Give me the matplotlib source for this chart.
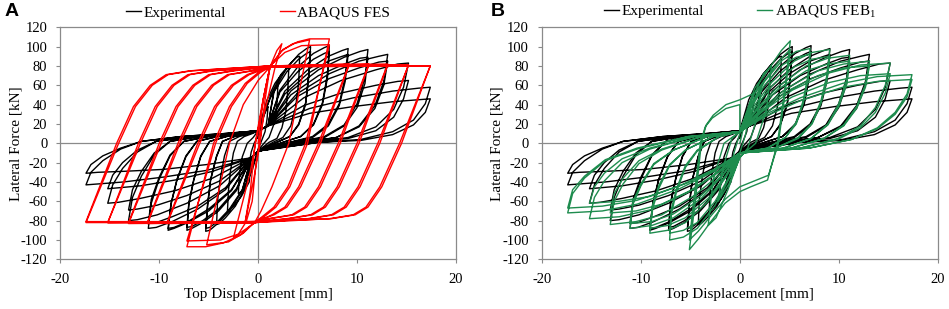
import matplotlib.pyplot as plt
from matplotlib.lines import Line2D

# ---- experimental hysteresis (top displacement [mm], lateral force [kN]), one cycle per row ----
exp_disp = [
    0, 0.3, 0.6, 0.85, 1.0, 0.9, 0.7, 0.4, 0, -0.3, -0.6, -0.85, -1.0, -0.9, -0.7, -0.4,
    0, 0.6, 1.2, 1.7, 2.0, 1.9, 1.6, 1.1, 0, -0.6, -1.2, -1.7, -2.0, -1.9, -1.6, -1.1, -0.5,
    0, 0.9, 1.7, 2.4, 2.9, 3.1, 3.0, 2.8, 2.4, 1.9, 1.1, 0, -0.7, -0.9, -1.7, -2.4, -2.9, -3.1, -3.0, -2.8, -2.5, -2.1, -1.4, -0.6,
    0, 1.3, 2.3, 3.3, 3.9, 4.2, 4.1, 3.8, 3.3, 2.5, 1.5, 0, -0.7, -1.3, -2.3, -3.3, -3.9, -4.2, -4.1, -3.8, -3.4, -2.9, -1.9, -0.8,
    0, 1.0, 1.6, 2.9, 4.1, 4.9, 5.3, 5.1, 4.8, 4.1, 3.2, 1.9, 0, -0.7, -1.6, -2.9, -4.1, -4.9, -5.3, -5.1, -4.8, -4.2, -3.6, -2.4, -1.1,
    0, 1.0, 1.6, 2.9, 4.1, 4.9, 5.3, 5.1, 4.8, 4.1, 3.2, 1.9, 0, -0.7, -1.6, -2.9, -4.1, -4.9, -5.3, -5.1, -4.8, -4.2, -3.6, -2.4, -1.1,
    0, 1.0, 2.2, 4.0, 5.6, 6.7, 7.2, 7.0, 6.5, 5.6, 4.3, 2.5, 0, -0.7, -2.2, -4.0, -5.6, -6.7, -7.2, -7.0, -6.5, -5.8, -4.9, -3.2, -1.4,
    0, 1.0, 2.2, 4.0, 5.6, 6.7, 7.2, 7.0, 6.5, 5.6, 4.3, 2.5, 0, -0.7, -2.2, -4.0, -5.6, -6.7, -7.2, -7.0, -6.5, -5.8, -4.9, -3.2, -1.4,
    0, 1.0, 2.7, 5.0, 7.1, 8.5, 9.1, 8.8, 8.2, 7.1, 5.5, 3.2, 0, -0.7, -2.7, -5.0, -7.1, -8.5, -9.1, -8.8, -8.2, -7.3, -6.2, -4.1, -1.8,
    0, 1.0, 2.7, 5.0, 7.1, 8.5, 9.1, 8.8, 8.2, 7.1, 5.5, 3.2, 0, -0.7, -2.7, -5.0, -7.1, -8.5, -9.1, -8.8, -8.2, -7.3, -6.2, -4.1, -1.8,
    0, 1.0, 3.3, 6.1, 8.7, 10.3, 11.1, 10.8, 10.0, 8.7, 6.7, 3.9, 0, -0.7, -3.3, -6.1, -8.7, -10.3, -11.1, -10.8, -10.0, -8.9, -7.5, -5.0, -2.2,
    0, 1.0, 3.3, 6.1, 8.7, 10.3, 11.1, 10.8, 10.0, 8.7, 6.7, 3.9, 0, -0.7, -3.3, -6.1, -8.7, -10.3, -11.1, -10.8, -10.0, -8.9, -7.5, -5.0, -2.2,
    0, 1.0, 3.9, 7.2, 10.2, 12.2, 13.1, 12.7, 11.8, 10.2, 7.9, 4.6, 0, -0.7, -3.9, -7.2, -10.2, -12.2, -13.1, -12.7, -11.8, -10.5, -8.9, -5.9, -2.6,
    0, 1.0, 3.9, 7.2, 10.2, 12.2, 13.1, 12.7, 11.8, 10.2, 7.9, 4.6, 0, -0.7, -3.9, -7.2, -10.2, -12.2, -13.1, -12.7, -11.8, -10.5, -8.9, -5.9, -2.6,
    0, 1.0, 4.6, 8.4, 11.9, 14.1, 15.2, 14.7, 13.7, 11.9, 9.1, 5.3, 0, -0.7, -4.6, -8.4, -11.9, -14.1, -15.2, -14.7, -13.7, -12.2, -10.3, -6.8, -3.0,
    0, 1.0, 4.6, 8.4, 11.9, 14.1, 15.2, 14.7, 13.7, 11.9, 9.1, 5.3, 0, -0.7, -4.6, -8.4, -11.9, -14.1, -15.2, -14.7, -13.7, -12.2, -10.3, -6.8, -3.0,
    0, 1.0, 5.2, 9.6, 13.6, 16.2, 17.4, 16.9, 15.7, 13.6, 10.4, 6.1, 0, -0.7, -5.2, -9.6, -13.6, -16.2, -17.4, -16.9, -15.7, -13.9, -11.8, -7.8, -3.5,
    0, 1.0, 5.2, 9.6, 13.6, 16.2, 17.4, 16.9, 15.7, 13.6, 10.4, 6.1, 0, -0.7, -5.2, -9.6, -13.6, -16.2, -17.4, -16.9, -15.7, -13.9, -11.8, -7.8, -3.5, 0,
]
exp_force = [
    5, 18, 29, 35, 38, 25, 12, 4, -6, -16, -25, -31, -33, -21, -9, 0,
    8, 30, 46, 56, 60, 40, 20, 6, -7, -28, -42, -50, -52, -33, -14, 0, 6,
    13, 45, 62, 72, 77, 78, 55, 33, 16, 5, 1, -8, -15, -40, -55, -64, -69, -70, -49, -29, -10, 2, 7, 10,
    13, 50, 71, 83, 89, 90, 63, 38, 18, 6, 1, -8, -15, -46, -65, -77, -83, -84, -59, -35, -13, 2, 7, 10,
    13, 18, 55, 78, 92, 98, 100, 70, 42, 20, 7, 1, -8, -15, -49, -70, -83, -90, -91, -64, -38, -14, 2, 7, 10,
    13, 18, 53, 74, 87, 93, 95, 67, 40, 19, 7, 1, -8, -15, -48, -68, -81, -87, -88, -62, -37, -13, 2, 7, 10,
    13, 18, 55, 79, 93, 99, 101, 71, 42, 20, 7, 1, -8, -15, -49, -70, -82, -88, -90, -63, -38, -14, 2, 7, 10,
    13, 18, 53, 74, 87, 93, 95, 67, 40, 19, 7, 1, -8, -15, -47, -68, -80, -86, -87, -61, -37, -13, 2, 7, 10,
    13, 18, 54, 76, 90, 96, 98, 69, 41, 20, 7, 1, -8, -15, -49, -70, -82, -88, -90, -63, -38, -14, 2, 7, 10,
    13, 18, 51, 72, 85, 90, 92, 64, 39, 18, 6, 1, -8, -15, -48, -68, -81, -87, -88, -62, -37, -13, 2, 7, 10,
    13, 18, 54, 76, 89, 95, 97, 68, 41, 19, 7, 1, -8, -15, -48, -68, -81, -87, -88, -62, -37, -13, 2, 7, 10,
    13, 18, 50, 70, 82, 88, 89, 62, 37, 18, 6, 1, -8, -15, -46, -65, -76, -82, -83, -58, -35, -12, 2, 7, 10,
    13, 18, 51, 72, 85, 90, 92, 64, 39, 18, 6, 1, -8, -15, -44, -62, -74, -79, -80, -56, -34, -12, 2, 7, 10,
    13, 18, 48, 67, 78, 84, 85, 60, 36, 17, 6, 1, -8, -15, -39, -54, -64, -68, -69, -48, -29, -10, 2, 7, 10,
    13, 18, 47, 65, 76, 82, 83, 58, 35, 17, 6, 1, -8, -15, -36, -49, -57, -61, -62, -43, -26, -9, 2, 7, 10,
    13, 18, 39, 52, 60, 64, 65, 46, 27, 13, 5, 1, -8, -15, -29, -38, -44, -46, -47, -33, -20, -7, 2, 7, 10,
    13, 18, 36, 47, 54, 57, 58, 41, 24, 12, 4, 1, -8, -15, -28, -35, -40, -42, -43, -30, -18, -6, 2, 7, 10,
    13, 18, 31, 38, 43, 45, 46, 32, 19, 9, 3, 1, -8, -15, -22, -27, -29, -30, -31, -22, -13, -5, 2, 7, 10, 13,
]

# ---- ABAQUS FES (panel A) ----
fes_disp = [
    0, 0.5, 1.2, 0.4, -0.3, -0.8, -1.3, -0.5, 0.2, 0.7,
    1.2, 1.9, 2.4, 1.7, 0.6, -0.2, -0.6, -1.2, -2.0, -2.5, -1.8, -0.8, 0.1, 0.7,
    1.2, 2.3, 3.5, 5.2, 3.1, 1.4, 0.3, -0.3, -1.5, -3.0, -5.2, -2.9, -1.5, 0,
    1.2, 2.5, 4.0, 5.2, 7.2, 5.0, 3.2, 1.8, 0.6, -0.3, -1.8, -3.5, -5.3, -7.2, -4.5, -2.9, -1.3, 0,
    1.2, 2.7, 4.4, 7.2, 4.8, 3.0, 1.6, 0.4, -0.3, -2.0, -3.8, -7.2, -4.3, -2.7, -1.1, 0.2,
    1.2, 9.2, 6.3, 4.3, 2.9, 1.6, -0.3, -9.2, -6.1, -4.4, -2.7, -1.1,
    1.2, 9.2, 6.1, 4.1, 2.7, 1.4, -0.3, -9.2, -5.9, -4.2, -2.5, -0.9,
    1.2, 11.2, 8.3, 6.3, 4.9, 3.6, 1.2, -0.3, -11.2, -8.1, -6.4, -4.7, -3.1, -0.7,
    1.2, 11.2, 8.1, 6.1, 4.7, 3.4, 1.0, -0.3, -11.2, -7.9, -6.2, -4.5, -2.9, -0.5,
    1.2, 13.1, 10.2, 8.2, 6.8, 5.5, 3.1, -0.3, -13.1, -10.0, -8.3, -6.6, -5.0, -2.6,
    1.2, 13.1, 10.0, 8.0, 6.6, 5.3, 2.9, -0.3, -13.1, -9.8, -8.1, -6.4, -4.8, -2.4,
    1.2, 15.2, 12.3, 10.3, 8.9, 7.6, 5.2, -0.3, -15.2, -12.1, -10.4, -8.7, -7.1, -4.7,
    1.2, 15.2, 12.1, 10.1, 8.7, 7.4, 5.0, -0.3, -15.2, -11.9, -10.2, -8.5, -6.9, -4.5,
    1.2, 17.4, 14.5, 12.5, 11.1, 9.8, 7.4, -0.3, -17.4, -14.3, -12.6, -10.9, -9.3, -6.9,
    1.2, 17.4, 14.3, 12.3, 10.9, 9.6, 7.2, -0.3, -17.4, -14.1, -12.4, -10.7, -9.1, -6.7, 1.2, 17.4,
]
fes_force = [
    0, 45, 79, 40, 0, -50, -81, -40, 0, 45,
    79, 96, 103, 78, 30, -20, -60, -81, -94, -98, -70, -30, 20, 55,
    79, 95, 103, 107, 0, -45, -70, -81, -93, -102, -105, 0, 40, 65,
    79, 97, 105, 108, 108, 0, -45, -66, -76, -81, -95, -103, -107, -107, 0, 38, 62, 73,
    80, 94, 101, 102, 0, -45, -66, -76, -82, -94, -100, -101, 0, 38, 62, 73,
    79, 81, 0, -45, -66, -74, -81, -82, 0, 38, 60, 71,
    80, 82, 0, -45, -66, -74, -82, -83, 0, 38, 60, 71,
    79, 81, 0, -45, -66, -74, -78, -81, -82, 0, 38, 60, 71, 75,
    80, 82, 0, -45, -66, -74, -78, -82, -83, 0, 38, 60, 71, 75,
    79, 81, 0, -45, -66, -74, -78, -81, -82, 0, 38, 60, 71, 75,
    80, 82, 0, -45, -66, -74, -78, -82, -83, 0, 38, 60, 71, 75,
    79, 81, 0, -45, -66, -74, -78, -81, -82, 0, 38, 60, 71, 75,
    80, 81, 0, -45, -66, -74, -78, -82, -82, 0, 38, 60, 71, 75,
    79, 80, 0, -45, -66, -74, -78, -81, -81, 0, 38, 60, 71, 75,
    80, 80, 0, -45, -66, -74, -78, -82, -82, 0, 38, 60, 71, 75, 80, 80,
]

# ---- ABAQUS FEB1 (panel B) ----
feb_disp = [
    0, 0.5, 1.0, 0.6, 0, -0.5, -1.0, -0.6, 0,
    1.1, 2.2, 1.7, 0.8, 0, -1.1, -2.2, -1.7, -0.8, 0,
    1.2, 2.4, 3.2, 2.7, 1.6, 0, -1.2, -2.4, -3.2, -2.7, -1.6, 0,
    1.5, 3.0, 4.2, 5.1, 4.6, 3.8, 2.8, 1.1, 0, -1.5, -3.0, -4.2, -5.1, -4.5, -3.9, -3.4, -2.7, -1.4, 0,
    1.5, 3.0, 4.2, 5.1, 4.6, 3.9, 2.9, 1.2, 0, -1.5, -3.0, -4.2, -5.1, -4.6, -4.0, -3.5, -2.8, -1.4, 0,
    0, 1.1, 2.5, 4.3, 5.7, 7.1, 6.9, 6.4, 5.7, 4.6, 2.8, 0, -1.1, -2.5, -4.3, -5.7, -7.1, -6.9, -6.4, -5.5, -4.3, -2.1,
    0, 1.1, 2.5, 4.3, 5.7, 7.1, 6.9, 6.4, 5.7, 4.6, 2.8, 0, -1.1, -2.5, -4.3, -5.7, -7.1, -6.9, -6.4, -5.5, -4.3, -2.1,
    0, 1.4, 3.2, 5.5, 7.3, 9.1, 8.8, 8.2, 7.3, 5.9, 3.6, 0, -1.4, -3.2, -5.5, -7.3, -9.1, -8.8, -8.2, -7.1, -5.5, -2.7,
    0, 1.4, 3.2, 5.5, 7.3, 9.1, 8.8, 8.2, 7.3, 5.9, 3.6, 0, -1.4, -3.2, -5.5, -7.3, -9.1, -8.8, -8.2, -7.1, -5.5, -2.7,
    0, 1.7, 3.9, 6.7, 8.9, 11.1, 10.8, 10.0, 8.9, 7.2, 4.4, 0, -1.7, -3.9, -6.7, -8.9, -11.1, -10.8, -10.0, -8.7, -6.7, -3.3,
    0, 1.7, 3.9, 6.7, 8.9, 11.1, 10.8, 10.0, 8.9, 7.2, 4.4, 0, -1.7, -3.9, -6.7, -8.9, -11.1, -10.8, -10.0, -8.7, -6.7, -3.3,
    0, 2.0, 4.6, 7.9, 10.5, 13.1, 12.7, 11.8, 10.5, 8.5, 5.2, 0, -2.0, -4.6, -7.9, -10.5, -13.1, -12.7, -11.8, -10.2, -7.9, -3.9,
    0, 2.0, 4.6, 7.9, 10.5, 13.1, 12.7, 11.8, 10.5, 8.5, 5.2, 0, -2.0, -4.6, -7.9, -10.5, -13.1, -12.7, -11.8, -10.2, -7.9, -3.9,
    0, 2.3, 5.3, 9.1, 12.2, 15.2, 14.7, 13.7, 12.2, 9.9, 6.1, 0, -2.3, -5.3, -9.1, -12.2, -15.2, -14.7, -13.7, -11.9, -9.1, -4.6,
    0, 2.3, 5.3, 9.1, 12.2, 15.2, 14.7, 13.7, 12.2, 9.9, 6.1, 0, -2.3, -5.3, -9.1, -12.2, -15.2, -14.7, -13.7, -11.9, -9.1, -4.6,
    0, 2.6, 6.1, 10.4, 13.9, 17.4, 16.9, 15.7, 13.9, 11.3, 7.0, 0, -2.6, -6.1, -10.4, -13.9, -17.4, -16.9, -15.7, -13.6, -10.4, -5.2,
    0, 2.6, 6.1, 10.4, 13.9, 17.4, 16.9, 15.7, 13.9, 11.3, 7.0, 0, -2.6, -6.1, -10.4, -13.9, -17.4, -16.9, -15.7, -13.6, -10.4, -5.2, 0,
]
feb_force = [
    0, 22, 35, 10, -10, -24, -35, -10, 10,
    40, 60, 25, -5, -15, -42, -60, -25, 5, 12,
    45, 72, 80, 35, 0, -14, -48, -77, -85, -38, 0, 12,
    57, 78, 96, 106, 60, 0, -38, -45, -50, -62, -82, -99, -110, -60, 0, 19, 29, 40, 45,
    52, 72, 88, 97, 55, 0, -33, -40, -45, -58, -76, -91, -100, -55, 0, 17, 26, 36, 40,
    12, 38, 64, 86, 95, 98, 71, 44, 22, 6, -5, -10, -37, -64, -88, -97, -100, -72, -50, -25, -8, 7,
    12, 36, 60, 81, 89, 92, 66, 41, 20, 6, -5, -10, -35, -60, -82, -90, -93, -67, -47, -23, -7, 7,
    12, 38, 63, 85, 94, 97, 70, 44, 21, 6, -5, -10, -35, -60, -82, -90, -93, -67, -47, -23, -7, 7,
    12, 35, 59, 79, 87, 90, 65, 41, 20, 5, -5, -10, -33, -57, -77, -85, -88, -63, -44, -22, -7, 7,
    12, 36, 59, 80, 88, 91, 66, 41, 20, 5, -5, -10, -33, -57, -77, -85, -88, -63, -44, -22, -7, 7,
    12, 34, 56, 75, 82, 85, 61, 38, 19, 5, -5, -10, -32, -54, -73, -81, -83, -60, -42, -21, -7, 7,
    12, 34, 56, 75, 82, 85, 61, 38, 19, 5, -5, -10, -32, -54, -74, -81, -84, -60, -42, -21, -7, 7,
    12, 32, 53, 70, 78, 80, 58, 36, 18, 5, -5, -10, -29, -47, -63, -70, -72, -52, -36, -18, -6, 7,
    12, 33, 55, 73, 81, 83, 60, 37, 18, 5, -5, -10, -30, -51, -69, -76, -78, -56, -39, -20, -6, 7,
    12, 30, 48, 63, 70, 72, 52, 32, 16, 4, -5, -10, -26, -41, -55, -60, -62, -45, -31, -16, -5, 7,
    12, 30, 47, 62, 69, 71, 51, 32, 16, 4, -5, -10, -29, -47, -63, -70, -72, -52, -36, -18, -6, 7,
    12, 28, 44, 58, 64, 66, 48, 30, 15, 4, -5, -10, -27, -44, -59, -65, -67, -48, -34, -17, -5, 7, 12,
]

x_ticks = [-20, -10, 0, 10, 20]
y_ticks = list(range(-120, 121, 20))
panel_letters = ['A', 'B']
exp_label = 'Experimental'
sim_labels = ['ABAQUS FES', r'ABAQUS FEB$_\mathregular{1}$']
sim_colors = ['#ff0000', '#1e8c4e']

plt.rcParams['font.family'] = ['Liberation Serif', 'DejaVu Serif']
plt.rcParams['axes.unicode_minus'] = False
plt.rcParams['mathtext.fontset'] = 'custom'
plt.rcParams['mathtext.rm'] = 'Liberation Serif'

grey = '#8a8a8a'

fig = plt.figure(figsize=(9.49, 3.09), dpi=100)
ax_a = fig.add_axes([0.0635, 0.1608, 0.4170, 0.7509])
ax_b = fig.add_axes([0.5711, 0.1608, 0.4170, 0.7509])

sims = [(fes_disp, fes_force), (feb_disp, feb_force)]

for i, ax in enumerate([ax_a, ax_b]):
    ax.axhline(0, color=grey, lw=0.9, zorder=1)
    ax.axvline(0, color=grey, lw=0.9, zorder=1)
    ax.plot(exp_disp, exp_force, color='black', lw=1.0, zorder=2)
    ax.plot(sims[i][0], sims[i][1], color=sim_colors[i], lw=1.0, zorder=3)

    ax.set_xlim(-20, 20)
    ax.set_ylim(-120, 120)
    ax.set_xticks(x_ticks)
    ax.set_yticks(y_ticks)
    ax.tick_params(direction='out', length=3, width=0.8, color=grey, labelsize=10.5)
    ax.tick_params(axis='y', pad=6.3)
    ax.tick_params(axis='x', pad=6.5)
    for s in ax.spines.values():
        s.set_color(grey)
        s.set_linewidth(0.9)
    ax.set_xlabel('Top Displacement [mm]', fontsize=11, labelpad=1.5)
    ax.set_ylabel('Lateral Force [kN]', fontsize=11, labelpad=-1)

    handles = [Line2D([], [], color='black', lw=1.0),
               Line2D([], [], color=sim_colors[i], lw=1.0)]
    ax.legend(handles, [exp_label, sim_labels[i]], ncol=2, loc='lower center',
              bbox_to_anchor=(0.5, 1.02), frameon=False, fontsize=11,
              handlelength=1.0, handletextpad=0.15, columnspacing=3.5,
              borderaxespad=0.1, borderpad=0.1)

fig.text(0.005, 0.99, panel_letters[0], fontsize=14, fontweight='bold',
         va='top', ha='left', family='Liberation Sans')
fig.text(0.5175, 0.99, panel_letters[1], fontsize=14, fontweight='bold',
         va='top', ha='left', family='Liberation Sans')

fig.savefig('out.png', dpi=100)
